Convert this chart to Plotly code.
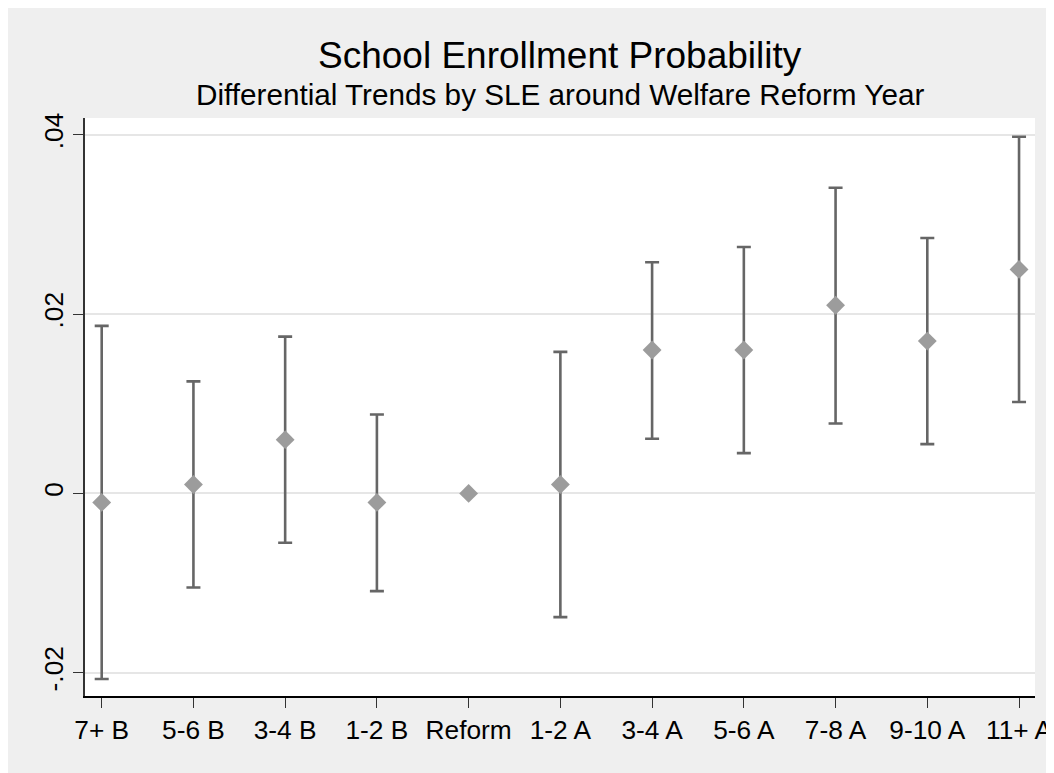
import plotly.graph_objects as go

# ---- data ----
categories = ["7+ B", "5-6 B", "3-4 B", "1-2 B", "Reform", "1-2 A",
              "3-4 A", "5-6 A", "7-8 A", "9-10 A", "11+ A"]
estimate = [-0.001, 0.001, 0.006, -0.001, 0.0, 0.001,
            0.016, 0.016, 0.021, 0.017, 0.025]
ci_lower = [-0.0207, -0.0105, -0.0055, -0.0109, None, -0.0138,
            0.0061, 0.0045, 0.0078, 0.0055, 0.0102]
ci_upper = [0.0187, 0.0125, 0.0175, 0.0088, None, 0.0158,
            0.0258, 0.0275, 0.0341, 0.0285, 0.0398]
y_tickvals = [-0.02, 0, 0.02, 0.04]
y_ticktext = ["-.02", "0", ".02", ".04"]

title_text = "School Enrollment Probability"
subtitle_text = "Differential Trends by SLE around Welfare Reform Year"

# ---- layout geometry (page has an 8px body margin) ----
OFF = 8
W, H = 1054 + OFF, 773 + OFF
ML, MT = 85 - OFF, 118 - OFF
PW, PH = 950, 578
MR, MB = W - ML - PW, H - MT - PH

def px_y(py):
    return 1 - (py - OFF - MT) / PH

xpos = list(range(len(categories)))
err_plus = [None if u is None else u - e for u, e in zip(ci_upper, estimate)]
err_minus = [None if l is None else e - l for l, e in zip(ci_lower, estimate)]

FONT = "Liberation Sans, Arial, Helvetica, sans-serif"

fig = go.Figure()
# error bars (drawn first, beneath the markers)
fig.add_trace(go.Scatter(
    x=xpos, y=estimate, mode="markers",
    marker=dict(size=1, opacity=0),
    error_y=dict(type="data", symmetric=False, array=err_plus,
                 arrayminus=err_minus, color="#666666", thickness=2.6, width=7),
    hoverinfo="skip", showlegend=False,
))
# point estimates
fig.add_trace(go.Scatter(
    x=xpos, y=estimate, mode="markers",
    marker=dict(symbol="diamond", size=14.5, color="#9c9c9c", line=dict(width=0)),
    showlegend=False,
))

fig.update_layout(
    width=W, height=H,
    margin=dict(l=ML, r=MR, t=MT, b=MB, pad=0),
    paper_bgcolor="#efefef",
    plot_bgcolor="#ffffff",
    font=dict(family=FONT, color="#000000"),
    showlegend=False,
    xaxis=dict(
        range=[-0.182, 10.174],
        tickmode="array", tickvals=xpos, ticktext=categories,
        ticks="outside", ticklen=10, tickwidth=1.3, tickcolor="#333333",
        showgrid=False, zeroline=False,
        showline=True, linecolor="#000000", linewidth=1.5,
        tickfont=dict(size=26.3, family=FONT, color="#000000"),
        fixedrange=True,
    ),
    yaxis=dict(
        range=[-0.0226, 0.04189],
        tickmode="array", tickvals=y_tickvals, ticktext=y_ticktext,
        tickangle=-90,
        ticks="outside", ticklen=10, tickwidth=1.3, tickcolor="#333333",
        showgrid=True, gridcolor="#e6e6e6", gridwidth=2,
        zeroline=False,
        showline=True, linecolor="#333333", linewidth=1.5,
        tickfont=dict(size=26.3, family=FONT, color="#000000"),
        fixedrange=True,
    ),
    annotations=[
        dict(text=title_text, x=0.5, xref="paper", xanchor="center",
             y=px_y(55), yref="paper", yanchor="middle", showarrow=False,
             font=dict(size=37, family=FONT, color="#000000")),
        dict(text=subtitle_text, x=0.5, xref="paper", xanchor="center",
             y=px_y(95), yref="paper", yanchor="middle", showarrow=False,
             font=dict(size=29.7, family=FONT, color="#000000")),
    ],
)

fig.write_html("out.html")
